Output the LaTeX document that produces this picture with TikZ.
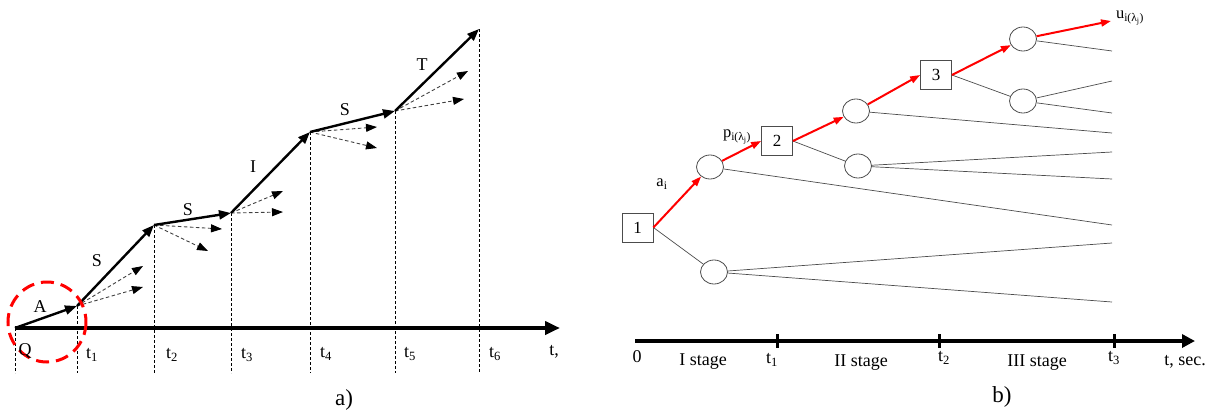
\documentclass[tikz,border=0pt]{standalone}
\usepackage{fontspec}
\setmainfont{Liberation Serif}
\usetikzlibrary{arrows.meta,shapes.geometric}

\tikzset{
  mainarrow/.style={line width=2.4pt, -{Triangle[length=12pt,width=9pt]}},
  fanarrow/.style={line width=0.9pt, black!75, dash pattern=on 3.5pt off 2.5pt, -{Triangle[length=11pt,width=8pt,color=black]}},
  tline/.style={line width=0.7pt, dash pattern=on 3pt off 2pt},
  lbl/.style={font=\fontsize{18}{20}\selectfont},
  smalllbl/.style={font=\fontsize{16.5}{18}\selectfont},
  caption/.style={font=\fontsize{23}{25}\selectfont},
  chancenode/.style={ellipse, draw=black!70, line width=0.8pt, minimum width=27pt, minimum height=24pt, inner sep=0pt},
  decbox/.style={rectangle, draw=black!70, line width=0.8pt, minimum width=31pt, minimum height=29pt, inner sep=0pt, font=\fontsize{17}{19}\selectfont},
  redarrow/.style={red, line width=2pt, -{Triangle[length=10pt,width=7pt]}},
  leafline/.style={black!70, line width=0.7pt},
}

\begin{document}
\begin{tikzpicture}[x=1pt,y=-1pt]
\useasboundingbox (0,0) rectangle (1215,415);

% ---------- a) trajectory of states ----------
% vertices of the trajectory (pixel coordinates)
\coordinate (q0) at (15,328);
\coordinate (q1) at (77,306);
\coordinate (q2) at (154,225);
\coordinate (q3) at (231,213);
\coordinate (q4) at (310,132);
\coordinate (q5) at (395,111);
\coordinate (q6) at (479,29);
\coordinate (base) at (0,373);

% dashed time markers
\foreach \i in {0,...,6}
  \draw[tline] (q\i) -- (q\i |- base);

% time axis
\coordinate (axa0) at (15,328);
\coordinate (axa1) at (560,328);
\draw[line width=4.5pt, -{Triangle[length=15pt,width=13pt]}] (axa0) -- (axa1);

% alternative (dashed) transitions
\coordinate (f1a) at (143,266); \coordinate (f1b) at (143,287);
\coordinate (f2a) at (222,229); \coordinate (f2b) at (208,251);
\coordinate (f3a) at (283,191); \coordinate (f3b) at (283,212);
\coordinate (f4a) at (377,127); \coordinate (f4b) at (377,148);
\coordinate (f5a) at (468,71);  \coordinate (f5b) at (464,99);
\foreach \i in {1,...,5} {
  \draw[fanarrow] (q\i) -- (f\i a);
  \draw[fanarrow] (q\i) -- (f\i b);
}

% realised trajectory
\draw[mainarrow] (q0) -- (q1);
\draw[mainarrow] (q1) -- (q2);
\draw[mainarrow] (q2) -- (q3);
\draw[mainarrow] (q3) -- (q4);
\draw[mainarrow] (q4) -- (q5);
\draw[mainarrow] (q5) -- (q6);

% highlighted start
\draw[red, line width=3pt, dash pattern=on 13pt off 7pt] (47,322) ellipse (39 and 40);

% state labels
\node[lbl] (sA) at (40,307) {A};
\node[lbl] (sS1) at (97,261) {S};
\node[lbl] (sS2) at (188,210) {S};
\node[lbl] (sI) at (253,167) {I};
\node[lbl] (sS3) at (345,110) {S};
\node[lbl] (sT) at (422,65) {T};

% time labels
\node[lbl] (tq) at (25,351) {Q};
\node[lbl] (ta1) at (92,355) {t\textsubscript{1}};
\node[lbl] (ta2) at (172,355) {t\textsubscript{2}};
\node[lbl] (ta3) at (247,355) {t\textsubscript{3}};
\node[lbl] (ta4) at (326,354) {t\textsubscript{4}};
\node[lbl] (ta5) at (410,354) {t\textsubscript{5}};
\node[lbl] (ta6) at (495,354) {t\textsubscript{6}};
\node[lbl] (tax) at (554,352) {t,};
\node[caption] (capa) at (344,400) {a)};

% ---------- b) decision tree ----------
\node[decbox] (b1) at (637.5,227.5) {1};
\node[decbox] (b2) at (777,141) {2};
\node[decbox] (b3) at (936,75) {3};
\node[chancenode] (c1) at (710,167) {};
\node[chancenode] (c2) at (714,272) {};
\node[chancenode] (c3) at (856,111) {};
\node[chancenode] (c4) at (858,166) {};
\node[chancenode] (c5) at (1023,39) {};
\node[chancenode] (c6) at (1023,101) {};

% leaf ends
\coordinate (l1) at (1112,51);
\coordinate (l2) at (1112,81);
\coordinate (l3) at (1112,113);
\coordinate (l4) at (1112,133);
\coordinate (l5) at (1112,152);
\coordinate (l6) at (1112,179);
\coordinate (l7) at (1112,225);
\coordinate (l8) at (1112,243);
\coordinate (l9) at (1112,302);
\coordinate (uend) at (1111,21);

\foreach \s/\e in {c5/l1,c6/l2,c6/l3,c3/l4,c4/l5,c4/l6,c1/l7,c2/l8,c2/l9}
  \draw[leafline] (\s) -- (\e);
\draw[leafline] (b1.east) -- (c2);
\draw[leafline] (b2.east) -- (c4);
\draw[leafline] (b3.east) -- (c6);

% optimal path
\draw[redarrow] (b1.east) -- (c1);
\draw[redarrow] (c1) -- (b2.west);
\draw[redarrow] (b2.east) -- (c3);
\draw[redarrow] (c3) -- (b3.west);
\draw[redarrow] (b3.east) -- (c5);
\draw[redarrow] (c5) -- (uend);

\node[smalllbl] (la) at (662,184) {a\textsubscript{i}};
\node[smalllbl] (lp) at (737,137) {p\textsubscript{i(λ\textsubscript{j})}};
\node[smalllbl] (lu) at (1130,18) {u\textsubscript{i(λ\textsubscript{j})}};

% stage axis
\coordinate (axb0) at (635,341);
\coordinate (axb1) at (1195,341);
\draw[line width=4pt, -{Triangle[length=13pt,width=13pt]}] (axb0) -- (axb1);
\foreach \x in {777,939,1114}
  \draw[line width=3pt] (\x,334) -- (\x,348);

\node[lbl] (z0) at (637,357) {0};
\node[lbl] (st1) at (703,362) {I stage};
\node[lbl] (tb1) at (772,360) {t\textsubscript{1}};
\node[lbl] (st2) at (861,363) {II stage};
\node[lbl] (tb2) at (944,358) {t\textsubscript{2}};
\node[lbl] (st3) at (1037,363) {III stage};
\node[lbl] (tb3) at (1114,358) {t\textsubscript{3}};
\node[lbl] (tbx) at (1185,362) {t, sec.};
\node[caption] (capb) at (1002,397) {b)};
\end{tikzpicture}
\end{document}
